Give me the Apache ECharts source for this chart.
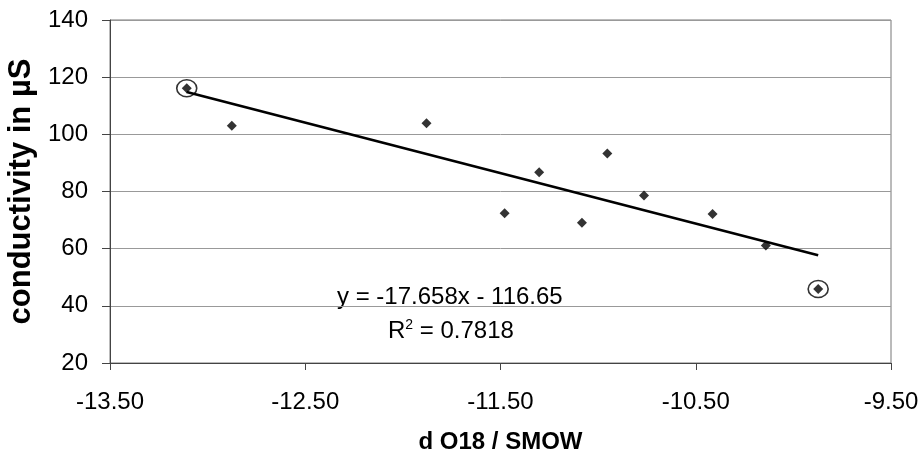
<!DOCTYPE html>
<html><head><meta charset="utf-8">
<script src="https://cdn.jsdelivr.net/npm/echarts@6/dist/echarts.min.js"></script>
<style>html,body{margin:0;padding:0;background:#fff}#c{width:921px;height:450px}</style>
</head><body><div id="c"></div>
<script>
const dO18 = [-13.107, -12.876, -11.879, -11.479, -11.302, -11.083, -10.953, -10.765, -10.414, -10.141, -9.873];
const conductivity = [116.1, 103.0, 103.9, 72.4, 86.7, 69.1, 93.3, 78.6, 72.1, 61.1, 45.9];
const circledIdx = [0, 10];
const slope = -17.658, intercept = -116.65, r2 = 0.7818;
const xTicks = ['-13.50','-12.50','-11.50','-10.50','-9.50'];
const yTicks = [20, 40, 60, 80, 100, 120, 140];

const pts = dO18.map((x, i) => [x, conductivity[i]]);
const xMin = Math.min(...dO18), xMax = Math.max(...dO18);
const trend = [[xMin, slope * xMin + intercept], [xMax, slope * xMax + intercept]];
const circled = circledIdx.map(i => pts[i]);

const chart = echarts.init(document.getElementById('c'));
const font = '"Liberation Sans", Arial, sans-serif';
chart.setOption({
  animation: false,
  grid: { left: 110, right: 30, top: 20, bottom: 87, containLabel: false, outerBoundsMode: 'none',
          show: true, borderColor: '#777', borderWidth: 1 },
  xAxis: {
    type: 'value', min: -13.5, max: -9.5, interval: 1,
    name: 'd O18 / SMOW', nameLocation: 'middle', nameGap: 67,
    nameTextStyle: { fontFamily: font, fontWeight: 'bold', fontSize: 24, color: '#000' },
    axisLine: { show: true, lineStyle: { color: '#444' } },
    axisTick: { show: true, length: 7, lineStyle: { color: '#444' } },
    splitLine: { show: false },
    axisLabel: { fontFamily: font, fontSize: 24, color: '#000', margin: 27,
                 formatter: v => xTicks[Math.round(v + 13.5)] }
  },
  yAxis: {
    type: 'value', min: 20, max: 140, interval: 20,
    name: 'conductivity in µS', nameLocation: 'middle', nameGap: 62, nameRotate: 90,
    nameTextStyle: { fontFamily: font, fontWeight: 'bold', fontSize: 31, color: '#000' },
    axisLine: { show: true, lineStyle: { color: '#444' } },
    axisTick: { show: true, inside: false, length: 8, lineStyle: { color: '#444' } },
    splitLine: { show: true, lineStyle: { color: '#999', width: 1 } },
    axisLabel: { fontFamily: font, fontSize: 24, color: '#000', margin: 22,
                 formatter: v => String(yTicks[Math.round((v - 20) / 20)]) }
  },
  series: [
    { type: 'line', data: trend, symbol: 'none', lineStyle: { color: '#000', width: 2.7 }, z: 2 },
    { type: 'scatter', data: pts, symbol: 'diamond', symbolSize: 10, itemStyle: { color: '#000' }, z: 3 },
    { type: 'scatter', data: circled, symbol: 'circle', symbolSize: [20, 17],
      itemStyle: { color: 'rgba(0,0,0,0)', borderColor: '#000', borderWidth: 1.5 }, z: 4 }
  ],
  graphic: [
    { type: 'text', left: 337, top: 285, style: { text: 'y = ' + slope + 'x - ' + Math.abs(intercept).toFixed(2), font: '24px ' + font, fill: '#000' } },
    { type: 'text', left: 388, top: 318, style: {
      text: 'R{s|2} = ' + r2,
      font: '24px ' + font, fill: '#000',
      rich: { s: { fontSize: 14, fontFamily: font, verticalAlign: 'top', padding: [0, 0, 12, 0] } }
    } }
  ]
});
</script></body></html>
